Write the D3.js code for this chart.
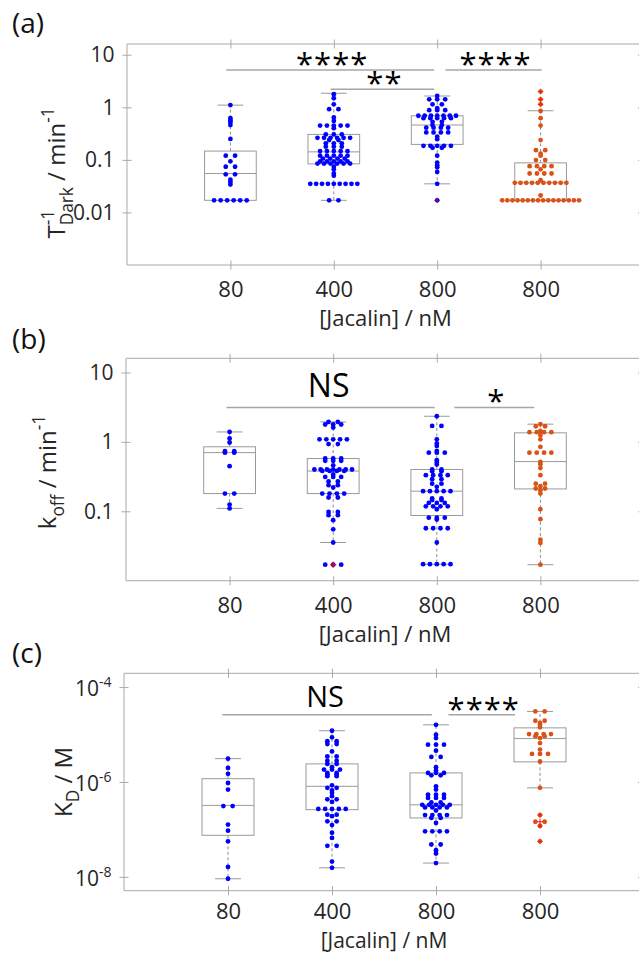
<!DOCTYPE html>
<meta charset="utf-8">
<style>
  body { margin: 0; background: #fff; }
  text { font-family: "Open Sans", sans-serif; }
</style>
<body>
<div id="chart"></div>
<script src="https://d3js.org/d3.v7.min.js"></script>
<script>

// ---------- data ----------
var categories = ["80", "400", "800", "800"];

// (a) inverse dark time, min^-1
var tDark80 = [1.1, 0.62, 0.57, 0.52, 0.46, 0.25, 0.12, 0.12, 0.094, 0.074, 0.074, 0.053, 0.053,
  0.042, 0.038, 0.034, 0.017, 0.017, 0.017, 0.017, 0.017, 0.017];
var tDark400 = [1.77, 1.49, 1.14, 0.92, 0.92, 0.64, 0.55, 0.45, 0.45, 0.45, 0.45, 0.45, 0.40,
  0.305, 0.305, 0.305, 0.263, 0.263, 0.263, 0.263, 0.263, 0.263, 0.238, 0.238,
  0.206, 0.206, 0.206, 0.178, 0.178, 0.178, 0.147, 0.147, 0.147, 0.147, 0.147,
  0.12, 0.12, 0.12, 0.12, 0.12, 0.106, 0.106, 0.106, 0.106, 0.094, 0.094, 0.094, 0.094, 0.094,
  0.085, 0.085, 0.085, 0.085, 0.085, 0.085, 0.074, 0.066, 0.055, 0.050,
  0.035, 0.035, 0.035, 0.035, 0.035, 0.035, 0.035, 0.035, 0.035, 0.017, 0.017];
var tDark800 = [1.64, 1.42, 1.42, 1.42, 1.14, 1.14, 0.96, 0.88, 0.88, 0.88,
  0.69, 0.69, 0.69, 0.69, 0.69, 0.69, 0.69, 0.62, 0.62, 0.62, 0.62, 0.62, 0.53, 0.53,
  0.46, 0.46, 0.41, 0.41, 0.41, 0.41, 0.333, 0.333, 0.333, 0.333, 0.275, 0.248,
  0.185, 0.185, 0.185, 0.185, 0.185, 0.17, 0.17, 0.12, 0.089, 0.079, 0.072, 0.059, 0.035, 0.017];
var tDark800b = [1.99, 1.42, 1.14, 0.85, 0.62, 0.45, 0.238, 0.153, 0.153, 0.132, 0.12, 0.099, 0.099,
  0.076, 0.076, 0.076, 0.076, 0.066, 0.055, 0.055, 0.055, 0.055, 0.041,
  0.0365, 0.0365, 0.0365, 0.0365, 0.0365, 0.0365, 0.0365, 0.0365, 0.0365, 0.0365, 0.021,
  0.017, 0.017, 0.017, 0.017, 0.017, 0.017, 0.017, 0.017, 0.017, 0.017, 0.017, 0.017, 0.017, 0.017, 0.017, 0.017];
// box stats: [low whisker, q1, median, q3, high whisker]
var boxTDark = [[0.017, 0.017, 0.055, 0.147, 1.1], [0.017, 0.084, 0.142, 0.305, 1.85],
  [0.035, 0.197, 0.46, 0.69, 1.64], [0.017, 0.017, 0.0365, 0.0877, 0.86]];
var sigTDark = [{x0: 0.96, x1: 2.97, y: 5.15, label: "****"}, {x0: 1.97, x1: 2.97, y: 2.2, label: "**"},
  {x0: 3.08, x1: 4.01, y: 5.15, label: "****"}];

// (b) k_off, min^-1
var koff80 = [1.39, 1.12, 0.98, 0.735, 0.735, 0.70, 0.70, 0.447, 0.18, 0.18, 0.125, 0.11];
var koff400 = [1.94, 1.94, 1.78, 1.78, 1.78, 1.61, 1.09, 1.09, 1.09, 1.09, 1.09, 0.93, 0.93,
  0.576, 0.576, 0.576, 0.533, 0.533, 0.533, 0.46, 0.40, 0.40, 0.40, 0.40, 0.40, 0.40, 0.40,
  0.382, 0.382, 0.382, 0.382, 0.339, 0.313, 0.313, 0.313, 0.269, 0.269, 0.238, 0.238, 0.22,
  0.18, 0.18, 0.18, 0.18, 0.158, 0.158, 0.098, 0.098, 0.088, 0.088, 0.0745, 0.055, 0.0355,
  0.017, 0.017, 0.017];
var koff800 = [2.34, 1.70, 1.70, 1.09, 0.95, 0.875, 0.74, 0.70, 0.70, 0.70, 0.545, 0.505, 0.472,
  0.40, 0.40, 0.378, 0.378, 0.331, 0.331, 0.331, 0.331, 0.29, 0.29, 0.25, 0.25, 0.225,
  0.195, 0.195, 0.195, 0.195, 0.195, 0.153, 0.153, 0.145, 0.145, 0.132, 0.132, 0.132,
  0.118, 0.118, 0.118, 0.118, 0.107, 0.081, 0.081, 0.081, 0.076, 0.057, 0.057, 0.057, 0.057,
  0.0355, 0.0173, 0.0173, 0.0173, 0.0173, 0.0173];
var koff800b = [1.80, 1.68, 1.68, 1.44, 1.38, 1.38, 1.38, 1.38, 1.25, 1.09, 0.85, 0.70, 0.70, 0.70, 0.70,
  0.515, 0.477, 0.42, 0.331, 0.25, 0.25, 0.23, 0.213, 0.213, 0.201, 0.18, 0.107, 0.077, 0.039, 0.035, 0.017];
var boxKoff = [[0.11, 0.18, 0.70, 0.85, 1.39], [0.0355, 0.18, 0.38, 0.576, 1.94],
  [0.0173, 0.087, 0.195, 0.40, 2.34], [0.017, 0.21, 0.52, 1.35, 1.80]];
var sigKoff = [{x0: 0.97, x1: 2.98, y: 3.13, label: "NS"}, {x0: 3.17, x1: 3.94, y: 3.13, label: "*"}];

// (c) K_D, M
var kd80 = [3.1e-6, 1.97e-6, 1.48e-6, 9.5e-7, 6.9e-7, 3.1e-7, 3.1e-7, 1.26e-7, 9.4e-8, 5.6e-8, 1.62e-8, 9.1e-9];
var kd400 = [1.2e-5, 8.7e-6, 7.2e-6, 7.2e-6, 6.3e-6, 6.3e-6, 4.4e-6, 3.45e-6, 3.45e-6, 2.8e-6, 2.8e-6,
  2.4e-6, 2.4e-6, 2.04e-6, 1.82e-6, 1.82e-6, 1.82e-6, 1.55e-6, 1.55e-6, 1.43e-6, 1.43e-6,
  1.32e-6, 1.32e-6, 8.5e-7, 7.5e-7, 7.5e-7, 6.6e-7, 5.9e-7, 5.0e-7, 4.3e-7, 4.3e-7, 3.8e-7,
  2.7e-7, 2.7e-7, 2.7e-7, 2.7e-7, 2.7e-7, 2.04e-7, 2.04e-7, 1.9e-7, 1.48e-7, 1.48e-7, 1.23e-7,
  8.5e-8, 6.6e-8, 4.5e-8, 4.5e-8, 2.1e-8, 1.55e-8];
var kd800 = [1.6e-5, 9.9e-6, 8.4e-6, 6.1e-6, 6.1e-6, 6.1e-6, 4.57e-6, 3.36e-6, 3.36e-6, 2.04e-6, 1.74e-6,
  1.55e-6, 1.55e-6, 1.55e-6, 1.38e-6, 1.38e-6, 8.1e-7, 6.9e-7, 5.4e-7, 5.4e-7, 5.4e-7,
  4.6e-7, 4.6e-7, 4.6e-7, 3.7e-7, 3.7e-7, 3.3e-7, 3.3e-7, 3.3e-7, 3.3e-7, 3.3e-7,
  2.9e-7, 2.9e-7, 2.9e-7, 2.9e-7, 2.5e-7, 2.0e-7, 2.0e-7, 2.0e-7, 2.0e-7, 1.74e-7, 1.74e-7, 1.37e-7,
  9.1e-8, 9.1e-8, 9.1e-8, 9.1e-8, 4.8e-8, 4.8e-8, 3.64e-8, 3.1e-8, 1.95e-8];
var kd800b = [3.07e-5, 3.07e-5, 1.95e-5, 1.95e-5, 1.75e-5, 1.6e-5, 1.42e-5, 1.02e-5, 1.02e-5, 1.02e-5, 1.02e-5,
  9.2e-6, 9.2e-6, 8.4e-6, 6.6e-6, 4.8e-6, 3.9e-6, 3.9e-6, 3.9e-6, 2.7e-6, 7.5e-7, 2.0e-7, 1.45e-7, 1.45e-7,
  1.18e-7, 5.6e-8];
var boxKd = [[9.1e-9, 7.5e-8, 3.2e-7, 1.17e-6, 3.1e-6], [1.55e-8, 2.6e-7, 8.1e-7, 2.4e-6, 1.2e-5],
  [1.95e-8, 1.74e-7, 3.3e-7, 1.55e-6, 1.6e-5], [7.5e-7, 2.65e-6, 8.2e-6, 1.38e-5, 3.07e-5]];
var sigKd = [{x0: 0.945, x1: 2.96, y: 2.6e-5, label: "NS"}, {x0: 3.12, x1: 3.76, y: 2.6e-5, label: "****"}];

// ---------- drawing ----------
var width = 639, height = 955;
var axisColor = "#a9a9a9", boxColor = "#9a9a9a", textColor = "#262626";
var dotColor = ["#0000ff", "#0000ff", "#0000ff", "#d95319"];

var svg = d3.select("#chart").append("svg")
  .attr("width", width).attr("height", height)
  .style("background", "#fff");

function supLabel(d) {
  return "10<tspan font-size='14' dy='-9'>" + Math.round(Math.log10(d)) + "</tspan>";
}

// text with TeX-like sub/superscripts, centred on (0,0) of its group
function richText(g, segs, fs) {
  var t = g.append("text").attr("font-size", fs).attr("fill", textColor);
  var prevW = 0, shift = 0;
  segs.forEach(function(s) {
    var sp = t.append("tspan").text(s.t);
    var target = s.sup ? -0.45 * fs : (s.sub ? 0.32 * fs : 0);
    sp.attr("dy", target - shift);
    shift = target;
    if (s.sup || s.sub) sp.attr("font-size", fs * 0.72);
    if (s.back) sp.attr("dx", -prevW);
    prevW = sp.node().getComputedTextLength();
  });
  var bb = t.node().getBBox();
  t.attr("x", -bb.x - bb.width / 2);
  return t;
}

function panel(p) {
  var g = svg.append("g");
  var x = d3.scaleLinear().domain([0, 5]).range([p.left, p.right]);
  var y = d3.scaleLog().domain(p.yDomain).range([p.bottom, p.top]);

  // frame lines
  g.append("line").attr("x1", p.left).attr("x2", p.right).attr("y1", p.top).attr("y2", p.top).attr("stroke", axisColor);
  g.append("line").attr("x1", p.left).attr("x2", p.right).attr("y1", p.bottom).attr("y2", p.bottom).attr("stroke", axisColor);
  g.append("line").attr("x1", p.left).attr("x2", p.left).attr("y1", p.top).attr("y2", p.bottom).attr("stroke", axisColor);
  g.append("line").attr("x1", p.right).attr("x2", p.right).attr("y1", p.top).attr("y2", p.bottom).attr("stroke", axisColor);

  // left axis
  var ya = g.append("g").attr("transform", "translate(" + p.left + ",0)")
    .call(d3.axisLeft(y).tickValues(p.yTicks).tickSizeOuter(0).tickSize(4.5).tickPadding(8).tickFormat(function(d) { return String(d); }));
  ya.select(".domain").remove();
  ya.selectAll(".tick line").attr("x1", 4.5).attr("stroke", axisColor);
  ya.selectAll(".tick text").attr("font-size", 21).attr("fill", textColor).attr("font-family", "Open Sans");
  if (p.expLabels) {
    ya.selectAll(".tick text").html(supLabel).attr("dy", "0.4em");
  }
  // right ticks
  var yr = g.append("g").attr("transform", "translate(" + p.right + ",0)")
    .call(d3.axisRight(y).tickValues(p.yTicks).tickSize(6).tickFormat(""));
  yr.select(".domain").remove();
  yr.selectAll(".tick line").attr("x2", -6).attr("stroke", axisColor);

  // bottom axis
  var xa = g.append("g").attr("transform", "translate(0," + p.bottom + ")")
    .call(d3.axisBottom(x).tickValues([1, 2, 3, 4]).tickSizeOuter(0).tickSize(4.5).tickPadding(p.xPad)
      .tickFormat(function(d, i) { return categories[i]; }));
  xa.select(".domain").remove();
  xa.selectAll(".tick line").attr("y1", -4.5).attr("stroke", axisColor);
  xa.selectAll(".tick text").attr("font-size", 22).attr("fill", textColor).attr("font-family", "Open Sans");
  // top ticks
  var xt = g.append("g").attr("transform", "translate(0," + p.top + ")")
    .call(d3.axisTop(x).tickValues([1, 2, 3, 4]).tickSize(4.5).tickFormat(""));
  xt.select(".domain").remove();
  xt.selectAll(".tick line").attr("y1", 4.5).attr("stroke", axisColor);

  // x label
  g.append("text").attr("x", (p.left + p.right) / 2).attr("y", p.xlabelY)
    .attr("text-anchor", "middle").attr("font-size", p.xlabelSize).attr("fill", textColor)
    .text("[Jacalin] / nM");

  // y label
  var yl = g.append("g").attr("transform", "translate(" + p.ylabelX + "," + p.ylabelY + ") rotate(-90)");
  richText(yl, p.ylabel, 24);

  // panel letter
  g.append("text").attr("x", 12).attr("y", p.letterY).attr("font-family", "Liberation Sans")
    .attr("font-size", 28).attr("fill", "#111").text(p.letter);

  // boxes
  p.boxes.forEach(function(b, i) {
    var c = i + 1;
    var bg = g.append("g").attr("stroke", boxColor).attr("fill", "none");
    bg.append("line").attr("x1", x(c)).attr("x2", x(c)).attr("y1", y(b[3])).attr("y2", y(b[4]))
      .attr("stroke-dasharray", "3,2.5").attr("stroke", "#8c8c8c");
    bg.append("line").attr("x1", x(c)).attr("x2", x(c)).attr("y1", y(b[1])).attr("y2", y(b[0]))
      .attr("stroke-dasharray", "3,2.5").attr("stroke", "#8c8c8c");
    bg.append("line").attr("x1", x(c - 0.125)).attr("x2", x(c + 0.125)).attr("y1", y(b[4])).attr("y2", y(b[4]));
    bg.append("line").attr("x1", x(c - 0.125)).attr("x2", x(c + 0.125)).attr("y1", y(b[0])).attr("y2", y(b[0]));
    bg.append("rect").attr("x", x(c - 0.25)).attr("width", x(c + 0.25) - x(c - 0.25))
      .attr("y", y(b[3])).attr("height", y(b[1]) - y(b[3]));
    bg.append("line").attr("x1", x(c - 0.25)).attr("x2", x(c + 0.25)).attr("y1", y(b[2])).attr("y2", y(b[2]));
  });

  // swarm dots
  p.groups.forEach(function(vals, i) {
    var cx = x(i + 1);
    var pts = vals.map(function(v) { return {v: v, py: y(v)}; })
      .sort(function(a, b) { return a.py - b.py; });
    var bins = [];
    pts.forEach(function(pt) {
      var last = bins[bins.length - 1];
      if (last && pt.py - last[0].py < 1.2) last.push(pt); else bins.push([pt]);
    });
    bins.forEach(function(bin) {
      var n = bin.length;
      var sp = n > 1 ? 9.3 * Math.pow(n - 1, 0.78) / (n - 1) : 0;
      bin.forEach(function(pt, k) { pt.px = cx + (k - (n - 1) / 2) * sp; });
    });
    g.append("g").selectAll("circle").data(pts).join("circle")
      .attr("cx", function(d) { return d.px; })
      .attr("cy", function(d) { return d.py; })
      .attr("r", 2.4)
      .attr("fill", dotColor[i]);
    // boxplot outlier markers at the group centre
    var box = p.boxes[i];
    var outl = vals.filter(function(v) { return v > box[4] * 1.001 || v < box[0] * 0.999; });
    var og = g.append("g").attr("stroke", "#ff0000").attr("stroke-opacity", 0.55).attr("stroke-width", 1);
    outl.forEach(function(v) {
      og.append("line").attr("x1", cx - 3).attr("x2", cx + 3).attr("y1", y(v)).attr("y2", y(v));
      og.append("line").attr("x1", cx).attr("x2", cx).attr("y1", y(v) - 3).attr("y2", y(v) + 3);
    });
  });

  // significance brackets
  p.sigs.forEach(function(s) {
    var ly = y(s.y);
    g.append("line").attr("x1", x(s.x0)).attr("x2", x(s.x1)).attr("y1", ly).attr("y2", ly)
      .attr("stroke", "#a6a6a6").attr("stroke-width", 1.5);
    var isNS = s.label === "NS";
    g.append("text").attr("x", (x(s.x0) + x(s.x1)) / 2 + (isNS ? -2 : 2))
      .attr("y", isNS ? ly - p.nsGap : ly + 5)
      .attr("text-anchor", "middle").attr("font-size", isNS ? p.nsSize : 31)
      .attr("letter-spacing", isNS ? 0 : 1)
      .attr("fill", "#000").text(s.label);
  });
}

panel({
  top: 44, bottom: 265, left: 127, right: 644,
  yDomain: [0.001, 16], yTicks: [0.01, 0.1, 1, 10],
  groups: [tDark80, tDark400, tDark800, tDark800b], boxes: boxTDark, sigs: sigTDark,
  ylabel: [{t: "T"}, {t: "-1", sup: 1}, {t: "Dark", sub: 1, back: 1}, {t: " / min"}, {t: "-1", sup: 1}],
  ylabelX: 65, ylabelY: 173, xPad: 12, xlabelY: 326, xlabelSize: 22,
  letter: "(a)", letterY: 33, nsGap: 10, nsSize: 30
});
panel({
  top: 358.3, bottom: 580.7, left: 126, right: 644,
  yDomain: [0.01, 16], yTicks: [0.1, 1, 10],
  groups: [koff80, koff400, koff800, koff800b], boxes: boxKoff, sigs: sigKoff,
  ylabel: [{t: "k"}, {t: "off", sub: 1}, {t: " / min"}, {t: "-1", sup: 1}],
  ylabelX: 56, ylabelY: 472, xPad: 12, xlabelY: 642, xlabelSize: 22,
  letter: "(b)", letterY: 349, nsGap: 10, nsSize: 32
});
panel({
  top: 673.3, bottom: 890.7, left: 124, right: 644,
  yDomain: [5.1e-9, 1.95e-4], yTicks: [1e-8, 1e-6, 1e-4], expLabels: true,
  groups: [kd80, kd400, kd800, kd800b], boxes: boxKd, sigs: sigKd,
  ylabel: [{t: "K"}, {t: "D", sub: 1}, {t: " / M"}],
  ylabelX: 71.7, ylabelY: 782, xPad: 8.2, xlabelY: 948, xlabelSize: 21,
  letter: "(c)", letterY: 663, nsGap: 8, nsSize: 29
});

</script>
</body>
